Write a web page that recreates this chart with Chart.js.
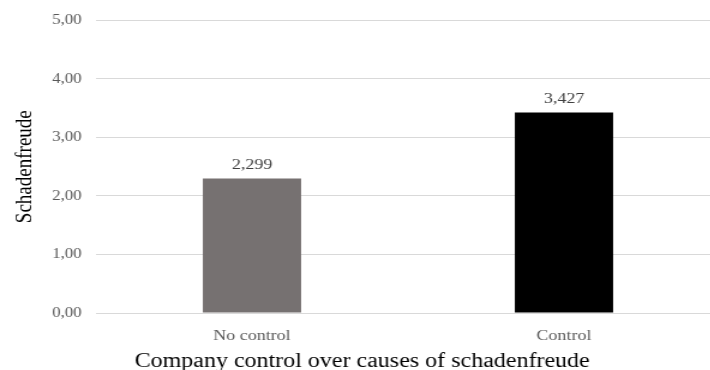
<!DOCTYPE html>
<html>
<head>
<meta charset="utf-8">
<script src="https://cdn.jsdelivr.net/npm/chart.js@4/dist/chart.umd.min.js"></script>
<style>
  html, body { margin: 0; padding: 0; background: #fff; overflow: hidden; width: 710px; height: 370px; }
  #wrap { width: 600px; height: 370px; transform: scaleX(1.2); transform-origin: 0 0; }
  canvas { display: block; }
</style>
</head>
<body>
<div id="wrap"><canvas id="chart" width="600" height="370" style="width:600px;height:370px"></canvas></div>
<script>
// Mean schadenfreude by company control condition
const categories = ['No control', 'Control'];
const meanScores = [2.299, 3.427];
const barColors = ['#767171', '#000000'];
const yTicks = [0, 1, 2, 3, 4, 5];
const xAxisTitle = 'Company control over causes of schadenfreude';

const serif = '"Liberation Serif", "Times New Roman", serif';
const commaDecimal = (v, digits) => v.toFixed(digits).replace('.', ',');

// Writes each bar's mean above it
const valueLabels = {
  id: 'valueLabels',
  afterDatasetsDraw(chart) {
    const { ctx } = chart;
    const meta = chart.getDatasetMeta(0);
    ctx.save();
    ctx.font = '15px ' + serif;
    ctx.fillStyle = '#404040';
    ctx.textAlign = 'center';
    ctx.textBaseline = 'alphabetic';
    meta.data.forEach((bar, i) => {
      ctx.fillText(commaDecimal(meanScores[i], 3), bar.x, bar.y - 9);
    });
    ctx.restore();
  }
};

// Category-axis caption, centred under the whole figure
const bottomCaption = {
  id: 'bottomCaption',
  afterDraw(chart) {
    const { ctx, width, height } = chart;
    ctx.save();
    ctx.font = '20px ' + serif;
    ctx.fillStyle = '#000000';
    ctx.textAlign = 'center';
    ctx.textBaseline = 'alphabetic';
    ctx.fillText(xAxisTitle, width * 0.503, height - 3);
    ctx.restore();
  }
};

new Chart(document.getElementById('chart'), {
  type: 'bar',
  data: {
    labels: categories,
    datasets: [{
      data: meanScores,
      backgroundColor: barColors,
      borderWidth: 0,
      barPercentage: 0.315,
      categoryPercentage: 1
    }]
  },
  options: {
    responsive: false,
    animation: false,
    layout: { padding: { top: 20, left: 0, right: 0, bottom: 0 } },
    plugins: {
      legend: { display: false },
      tooltip: { enabled: false }
    },
    scales: {
      x: {
        grid: { display: false },
        border: { display: false },
        ticks: {
          color: '#595959',
          font: { family: serif, size: 15 },
          padding: 6
        },
        afterFit(scale) { scale.height = 57; }
      },
      y: {
        min: 0,
        max: 5,
        afterBuildTicks(scale) { scale.ticks = yTicks.map(v => ({ value: v })); },
        grid: { color: '#d9d9d9', lineWidth: 1, drawTicks: false },
        border: { display: false },
        ticks: {
          color: '#595959',
          font: { family: serif, size: 14 },
          padding: 12,
          callback: v => commaDecimal(v, 2)
        },
        title: {
          display: true,
          text: 'Schadenfreude',
          color: '#000000',
          font: { family: serif, size: 19 },
          padding: { top: 10, bottom: 0 }
        },
        afterFit(scale) { scale.width = 80; }
      }
    }
  },
  plugins: [valueLabels, bottomCaption]
});
</script>
</body>
</html>
